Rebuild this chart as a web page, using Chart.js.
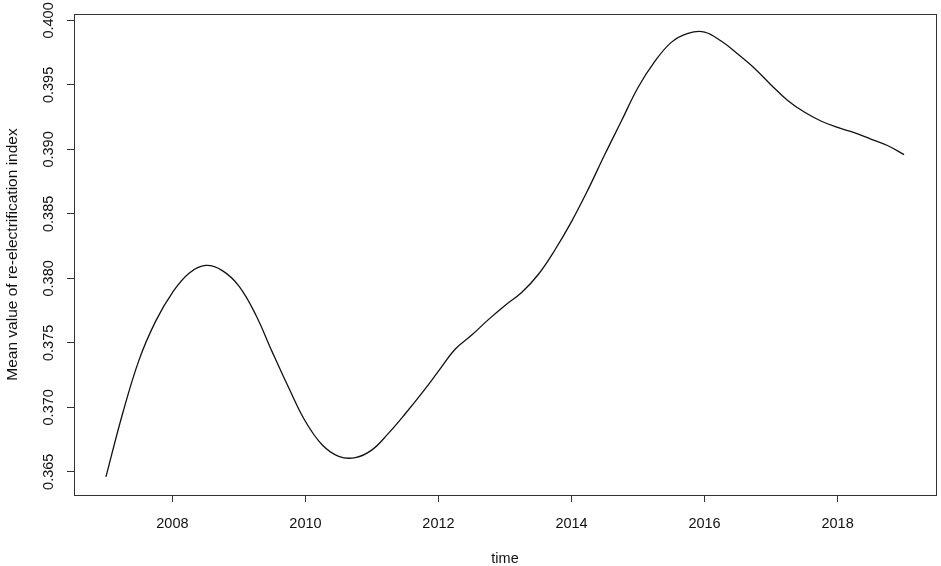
<!DOCTYPE html>
<html lang="en">
  <head>
    <meta charset="utf-8" />
    <title>Mean value of re-electrification index</title>
    <script src="https://cdn.jsdelivr.net/npm/chart.js@4.4.1/dist/chart.umd.min.js"></script>
    <style>
      * {
        margin: 0;
        padding: 0;
        box-sizing: border-box;
      }
      body {
        background: #fff;
      }
      .wrapper {
        position: relative;
        width: 941px;
        height: 566px;
      }
    </style>
  </head>
  <body>
    <div class="wrapper">
      <canvas id="chart"></canvas>
    </div>

    <script>
      const years = [
        2007.0, 2007.25, 2007.5, 2007.75, 2008.0, 2008.25, 2008.5, 2008.75,
        2009.0, 2009.25, 2009.5, 2009.75, 2010.0, 2010.25, 2010.5, 2010.75,
        2011.0, 2011.25, 2011.5, 2011.75, 2012.0, 2012.25, 2012.5, 2012.75,
        2013.0, 2013.25, 2013.5, 2013.75, 2014.0, 2014.25, 2014.5, 2014.75,
        2015.0, 2015.25, 2015.5, 2015.75, 2016.0, 2016.25, 2016.5, 2016.75,
        2017.0, 2017.25, 2017.5, 2017.75, 2018.0, 2018.25, 2018.5, 2018.75,
        2019.0,
      ];
      const meanIndex = [
        0.3646, 0.3695, 0.3737, 0.3767, 0.3789, 0.3804, 0.381, 0.3806,
        0.3794, 0.3772, 0.3743, 0.3715, 0.3689, 0.3671, 0.3662, 0.3661,
        0.3667, 0.368, 0.3695, 0.3711, 0.3728, 0.3745, 0.3756, 0.3768,
        0.3779, 0.3789, 0.3803, 0.3822, 0.3844, 0.3869, 0.3896, 0.3922,
        0.3948, 0.3968, 0.3983, 0.399, 0.3991, 0.3984, 0.3974, 0.3963,
        0.395, 0.3938, 0.3929, 0.3922, 0.3917, 0.3913, 0.3908, 0.3903,
        0.3896,
      ];
      const xTicks = [2008, 2010, 2012, 2014, 2016, 2018];
      const yTicks = [0.365, 0.37, 0.375, 0.38, 0.385, 0.39, 0.395, 0.4];

      const FONT = "'Liberation Sans', Arial, sans-serif";

      // R style box around the plot region + vertical y tick labels
      const boxPlugin = {
        id: "box",
        afterDraw(chart) {
          const { ctx, chartArea: a } = chart;
          const y = chart.scales.y;
          ctx.save();
          ctx.strokeStyle = "#333";
          ctx.lineWidth = 1;
          ctx.strokeRect(a.left + 0.5, a.top + 0.5, a.right - a.left, a.bottom - a.top);

          ctx.fillStyle = "#111";
          ctx.font = "14.5px " + FONT;
          ctx.textAlign = "center";
          ctx.textBaseline = "middle";
          yTicks.forEach((v) => {
            ctx.save();
            ctx.translate(49, y.getPixelForValue(v));
            ctx.rotate(-Math.PI / 2);
            ctx.fillText(v.toFixed(3), 0, 0);
            ctx.restore();
          });
          ctx.restore();
        },
      };

      new Chart(document.getElementById("chart"), {
        type: "line",
        plugins: [boxPlugin],
        data: {
          datasets: [
            {
              data: years.map((x, i) => ({ x: x, y: meanIndex[i] })),
              borderColor: "#111",
              borderWidth: 1.3,
              pointRadius: 0,
              tension: 0.4,
              fill: false,
            },
          ],
        },
        options: {
          responsive: true,
          maintainAspectRatio: false,
          animation: false,
          layout: { padding: { top: 14, right: 5, left: 0, bottom: 0 } },
          plugins: {
            legend: { display: false },
            tooltip: { enabled: false },
          },
          scales: {
            x: {
              type: "linear",
              min: 2006.52,
              max: 2019.48,
              afterBuildTicks: (s) => {
                s.ticks = xTicks.map((v) => ({ value: v }));
              },
              afterFit: (s) => {
                s.height = 71;
              },
              border: { display: false },
              grid: {
                drawOnChartArea: false,
                drawTicks: true,
                tickLength: 7,
                color: "#333",
              },
              ticks: {
                color: "#111",
                font: { family: FONT, size: 14.5 },
                padding: 13,
                maxRotation: 0,
                callback: (v) => String(v),
              },
              title: {
                display: true,
                text: "time",
                color: "#111",
                font: { family: FONT, size: 14.5, lineHeight: 1 },
                padding: { top: 10, bottom: 0 },
              },
            },
            y: {
              min: 0.3632,
              max: 0.4005,
              afterBuildTicks: (s) => {
                s.ticks = yTicks.map((v) => ({ value: v }));
              },
              afterFit: (s) => {
                s.width = 74;
              },
              border: { display: false },
              grid: {
                drawOnChartArea: false,
                drawTicks: true,
                tickLength: 7,
                color: "#333",
              },
              ticks: { display: false },
              title: {
                display: true,
                text: "Mean value of re-electrification index",
                color: "#111",
                font: { family: FONT, size: 15.5, lineHeight: 1 },
                padding: { top: 5, bottom: 0 },
              },
            },
          },
        },
      });
    </script>
  </body>
</html>
